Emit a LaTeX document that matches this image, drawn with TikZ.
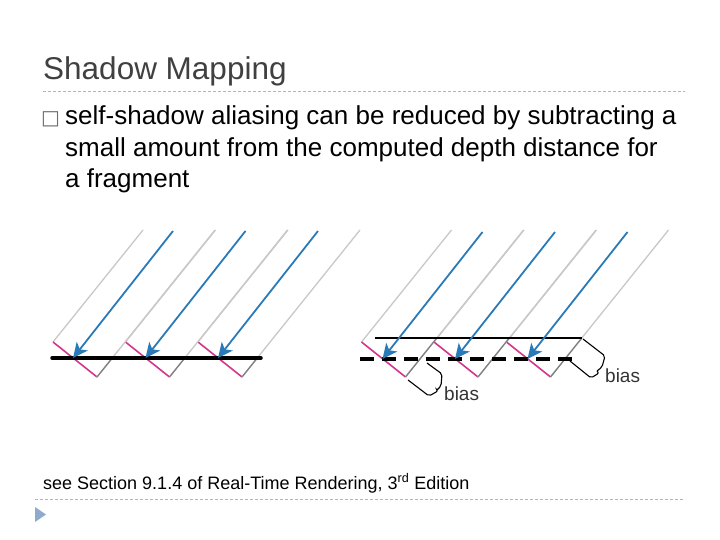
\documentclass[tikz,border=0pt]{standalone}
\usepackage{fontspec}
\setmainfont{Liberation Sans}
\newfontfamily\dvs{DejaVu Sans}
\usetikzlibrary{arrows.meta}
\definecolor{titlegray}{HTML}{404040}
\definecolor{lgray}{HTML}{C8C8C8}
\definecolor{dgray}{HTML}{808080}
\definecolor{pinkc}{HTML}{D2378C}
\definecolor{bluec}{HTML}{2A7AB8}
\definecolor{sepc}{HTML}{B4B4B4}
\definecolor{tric}{HTML}{8FAACC}
\tikzset{
  sep/.style={sepc, dashed, dash pattern=on 3pt off 2pt, line width=0.7pt},
  gline/.style={lgray, line width=1.3pt},
  gdark/.style={dgray, line width=1.3pt},
  pline/.style={pinkc, line width=1.6pt},
  barrow/.style={bluec, line width=1.8pt, -{Stealth[length=15pt,width=14pt,inset=4pt]}},
  surf/.style={black, line width=3.5pt, line cap=round},
  brc/.style={black, line width=1.1pt, rounded corners=2pt},
  txt/.style={anchor=base west, inner sep=0pt}
}
\begin{document}
\begin{tikzpicture}[x=1pt,y=-1pt]
\useasboundingbox (0,0) rectangle (720,540);
% title
\node[txt, text=titlegray, font=\fontsize{31.5}{34}\selectfont] (title) at (43,80) {Shadow Mapping};
\draw[sep] (43,91) -- (685,91);
\node[txt, text=sepc!60!black, font=\dvs\fontsize{20}{22}\selectfont] (bul) at (41,125) {□};
\node[txt, font=\fontsize{26}{28}\selectfont] (l1) at (65,125) {self-shadow aliasing can be reduced by subtracting a};
\node[txt, font=\fontsize{26}{28}\selectfont] (l2) at (65,157) {small amount from the computed depth distance for};
\node[txt, font=\fontsize{26}{28}\selectfont] (l3) at (65,188) {a fragment};
% left figure
\foreach \x in {53,125.5,198}{
  \draw[gline] (\x,342) -- ++(90,-112);
  \draw[pline] (\x,342) -- ++(44,35);
}
\foreach \x in {97,169.5,242}{
  \draw[gline] (\x,377) -- ++(118,-147);
  \draw[gdark] (\x,377) -- ++(15.7,-19.5);
}
\draw[surf] (52,358) -- (261,358);
\foreach \x [count=\i] in {53,125.5,198}{
  \coordinate (lt\i) at ({\x+20},358);
  \coordinate (ls\i) at ({\x+20+100},231);
  \draw[barrow] (ls\i) -- (lt\i);
}
% right figure
\foreach \x in {361.5,434,506.5}{
  \draw[gline] (\x,342) -- ++(90,-112);
  \draw[pline] (\x,342) -- ++(44,35);
}
\foreach \x in {405.5,478,550.5}{
  \draw[gline] (\x,377) -- ++(118,-147);
  \draw[gdark] (\x,377) -- ++(31,-38.6);
}
\draw[black, line width=2.8pt] (375,338) -- (582,338);
\draw[black, line width=3.8pt, dash pattern=on 14pt off 8pt] (360,359) -- (572,359);
\foreach \x [count=\i] in {361.5,434,506.5}{
  \coordinate (rt\i) at ({\x+21},359);
  \coordinate (rs\i) at ({\x+21+100},232);
  \draw[barrow] (rs\i) -- (rt\i);
}
% braces
\draw[brc] (583,339) -- (605,356) -- (602,367) -- (597,371);
\draw[brc] (570,361) -- (591,378) -- (599,373) -- (597,371);
\node[txt, text=black!80, font=\fontsize{19}{21}\selectfont] (bias1) at (605,382) {bias};
\draw[brc] (427,363) -- (442,374) -- (441,386) -- (437,390);
\draw[brc] (408,380) -- (429,396) -- (438,391) -- (437,390);
\node[txt, text=black!80, font=\fontsize{19}{21}\selectfont] (bias2) at (444,400) {bias};
% footer
\node[txt, font=\fontsize{18}{20}\selectfont] (foot) at (43,489) {see Section 9.1.4 of Real-Time Rendering, 3\textsuperscript{rd} Edition};
\draw[sep] (35,499) -- (685,499);
\fill[tric] (35,507) -- (35,522) -- (46,514.5) -- cycle;
\end{tikzpicture}
\end{document}
